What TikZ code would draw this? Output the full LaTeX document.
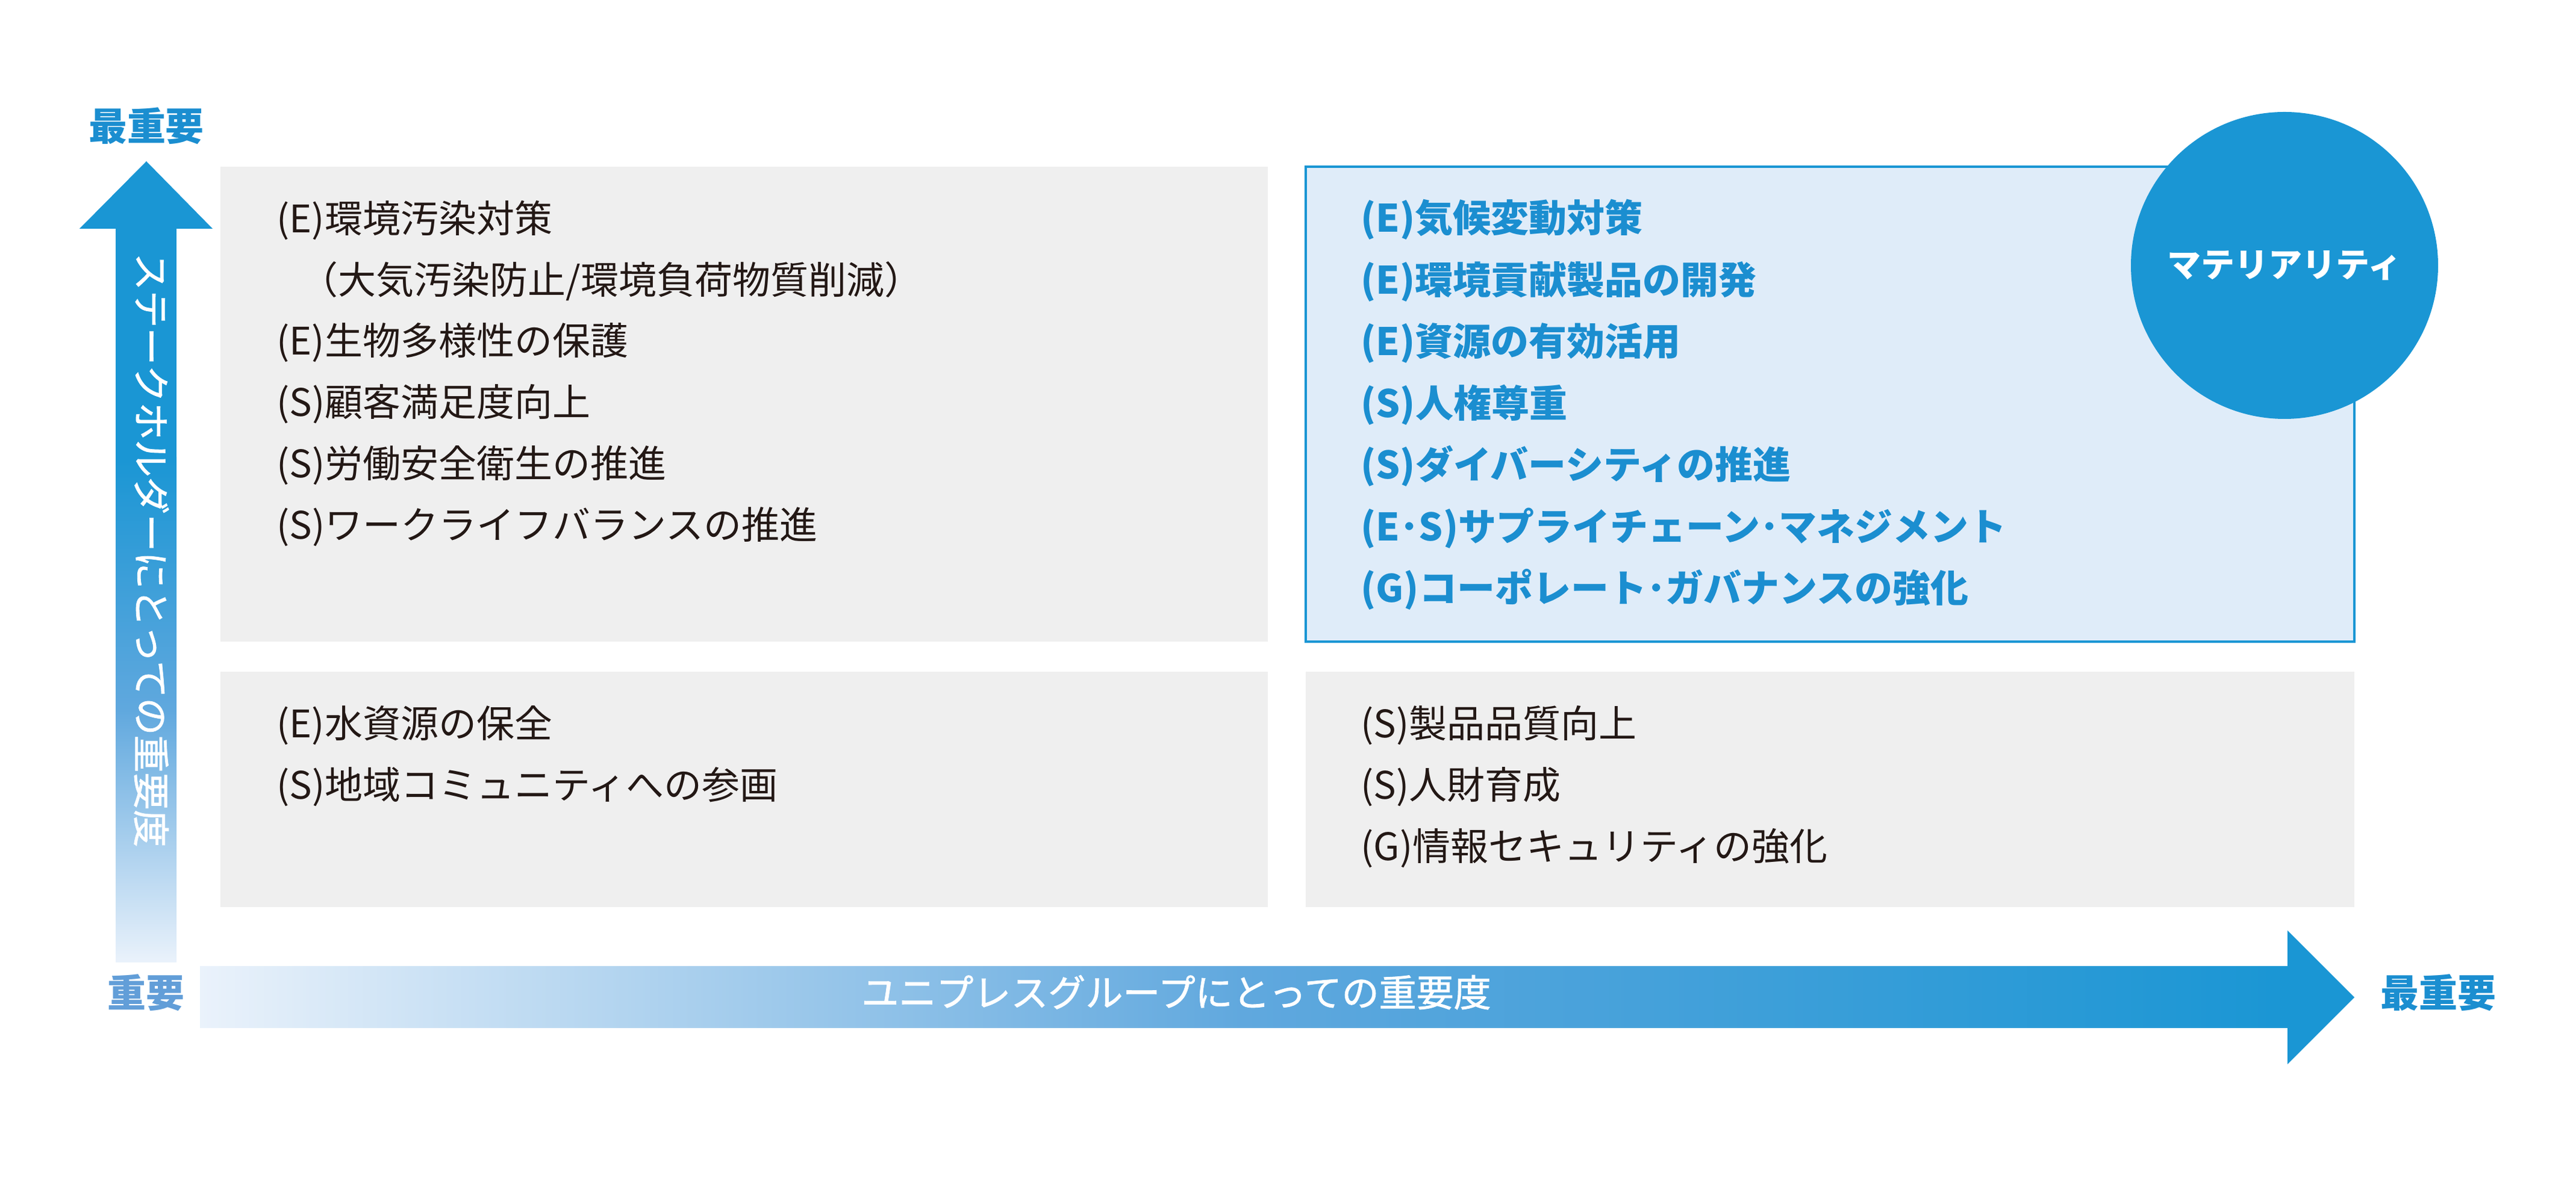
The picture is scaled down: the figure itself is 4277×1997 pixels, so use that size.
\documentclass[tikz,border=0pt]{standalone}
\usepackage{fontspec}
\setmainfont{Noto Sans CJK JP}
\newfontfamily\jpmedium[FakeBold=1.3]{Noto Sans CJK JP}
\definecolor{matblue}{RGB}{26,150,212}
\definecolor{mattext}{RGB}{27,142,208}
\definecolor{lowblue}{RGB}{98,158,216}
\definecolor{axislight}{RGB}{234,242,251}
\definecolor{axismid}{RGB}{96,168,222}
\definecolor{boxgray}{RGB}{239,239,239}
\definecolor{boxblue}{RGB}{223,236,249}
\definecolor{itemdark}{RGB}{35,24,21}

\tikzset{every picture/.style={line width=0.75pt}}
\tikzset{
  item/.style={anchor=west, inner sep=0pt, text=itemdark, text height=0.88em, text depth=0.12em, font=\fontsize{15.75}{15.75}\selectfont},
  keyitem/.style={item, text=mattext, font=\fontsize{15.75}{15.75}\selectfont\bfseries},
  axislabel/.style={inner sep=0pt, text height=0.88em, text depth=0.12em, font=\fontsize{16}{16}\selectfont\bfseries},
  axistext/.style={axislabel, text=white, font=\fontsize{15.5}{15.5}\selectfont\jpmedium},
  matcircle/.style={circle, fill=matblue, inner sep=0pt, minimum size=127.5pt, text=white, font=\fontsize{14}{14}\selectfont\bfseries},
}

\begin{document}
\begin{tikzpicture}[x=0.25pt,y=0.25pt,yscale=-1,xscale=1]
	\useasboundingbox (0,0) rectangle (4277,1997);

	%Shape: Rectangle [top left]
	\fill [boxgray] (366,277) rectangle (2105,1066) ;
	%Shape: Rectangle [top right]
	\draw [draw=matblue, fill=boxblue, line width=1pt] (2168,277) rectangle (3909,1066) ;
	%Shape: Rectangle [bottom left]
	\fill [boxgray] (366,1116) rectangle (2105,1507) ;
	%Shape: Rectangle [bottom right]
	\fill [boxgray] (2168,1116) rectangle (3909,1507) ;

	%Shape: Circle
	\node [matcircle] (materiality) at (3793,441) {マテリアリティ};

	%Shape: Up Arrow
	\fill [matblue] (192,378) rectangle (293,761) ;
	\shade [top color=matblue, bottom color=axislight, middle color=axismid] (192,760) rectangle (293,1599) ;
	\fill [matblue] (132,380) -- (243,268) -- (353,380) -- cycle ;
	%Shape: Right Arrow
	\shade [left color=axislight, right color=matblue, middle color=axismid] (332,1606) rectangle (3798,1708) ;
	\fill [matblue] (3798,1546) -- (3909,1657) -- (3798,1768) -- cycle ;

	%Text Node
	\node [axistext, rotate=-90] (stakeholder) at (243,914) {ステークホルダーにとっての重要度};
	\node [axistext] (group) at (1953,1657) {ユニプレスグループにとっての重要度};
	\node [axislabel, text=mattext] (topmost) at (243,218) {最重要};
	\node [axislabel, text=lowblue] (important) at (243,1658) {重要};
	\node [axislabel, text=mattext] (rightmost) at (4048,1658) {最重要};

	%Text Node [top left]
	\node [item] (pollution) at (458,371) {(E)環境汚染対策};
	\node [item] (pollutionsub) at (497,473) {（大気汚染防止/環境負荷物質削減）};
	\node [item] (biodiversity) at (458,574) {(E)生物多様性の保護};
	\node [item] (customer) at (458,676) {(S)顧客満足度向上};
	\node [item] (safety) at (458,778) {(S)労働安全衛生の推進};
	\node [item] (worklife) at (458,880) {(S)ワークライフバランスの推進};

	%Text Node [top right]
	\node [keyitem] (climate) at (2258,370) {(E)気候変動対策};
	\node [keyitem] (ecoproduct) at (2258,473) {(E)環境貢献製品の開発};
	\node [keyitem] (resource) at (2258,575) {(E)資源の有効活用};
	\node [keyitem] (humanrights) at (2258,678) {(S)人権尊重};
	\node [keyitem] (diversity) at (2258,780) {(S)ダイバーシティの推進};
	\node [keyitem] (supply) at (2258,883) {(E･S)サプライチェーン･マネジメント};
	\node [keyitem] (governance) at (2258,985) {(G)コーポレート･ガバナンスの強化};

	%Text Node [bottom left]
	\node [item] (water) at (458,1210) {(E)水資源の保全};
	\node [item] (community) at (458,1312) {(S)地域コミュニティへの参画};

	%Text Node [bottom right]
	\node [item] (quality) at (2258,1210) {(S)製品品質向上};
	\node [item] (talent) at (2258,1312) {(S)人財育成};
	\node [item] (security) at (2258,1414) {(G)情報セキュリティの強化};

\end{tikzpicture}
\end{document}
